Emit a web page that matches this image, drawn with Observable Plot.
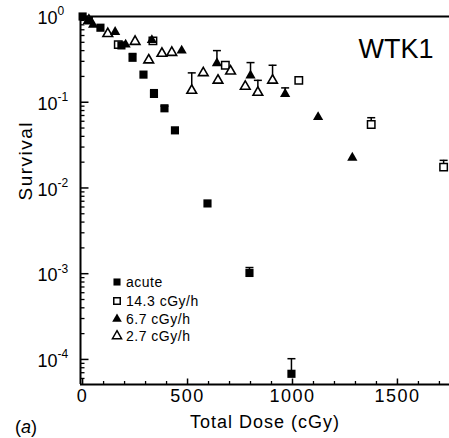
<!DOCTYPE html>
<html><head><meta charset="utf-8">
<script src="https://cdn.jsdelivr.net/npm/d3@7"></script>
<script src="https://cdn.jsdelivr.net/npm/@observablehq/plot@0.6"></script>
<style>
body{margin:0;background:#fff;}
svg{font-family:"Liberation Sans",Arial,Helvetica,sans-serif;}
</style>
</head><body><div id="chart"></div>
<script>
// ---- data ----
const acuteDose = [0, 30, 85, 185, 238, 290, 340, 390, 440, 595, 795, 995];
const acuteSurv = [1.0, 0.9, 0.74, 0.46, 0.33, 0.21, 0.125, 0.085, 0.047, 0.0066, 0.00102, 0.000068];
const acuteHi   = [null, null, null, null, 0.37, null, 0.14, 0.09, null, null, 0.00118, 0.000102];

const r143Dose = [170, 335, 680, 1030, 1375, 1720];
const r143Surv = [0.47, 0.52, 0.27, 0.18, 0.055, 0.0175];
const r143Hi   = [null, null, null, null, 0.066, 0.021];

const r67Dose = [50, 155, 205, 330, 472, 640, 800, 965, 1122, 1285];
const r67Surv = [0.8, 0.66, 0.47, 0.53, 0.40, 0.285, 0.205, 0.125, 0.067, 0.0225];
const r67Hi   = [null, null, null, null, null, 0.40, 0.29, 0.147, null, null];

const r27Dose = [30, 120, 250, 315, 378, 425, 520, 575, 645, 705, 775, 835, 905];
const r27Surv = [0.9, 0.63, 0.51, 0.31, 0.37, 0.38, 0.137, 0.22, 0.18, 0.23, 0.153, 0.13, 0.18];
const r27Hi   = [null, null, null, null, null, null, 0.22, null, null, null, null, 0.18, 0.27];

const seriesNames = ["acute", "14.3 cGy/h", "6.7 cGy/h", "2.7 cGy/h"];
const xTicks = [0, 500, 1000, 1500];
const xMinorTicks = [100, 200, 300, 400, 600, 700, 800, 900, 1100, 1200, 1300, 1400, 1600, 1700];
const yTicks = [1e-4, 1e-3, 1e-2, 1e-1, 1];
const yTickExp = ["-4", "-3", "-2", "-1", "0"];
const xDomain = [-10, 1748];
const yDomain = [5.1e-5, 1];
const xLabel = "Total Dose (cGy)";
const yLabel = "Survival";
const panelTitle = "WTK1";

// ---- build tables ----
function rows(dose, surv, hi, series) {
  return dose.map((d, i) => ({dose: d, surv: surv[i], hi: hi[i], series}));
}
const acute = rows(acuteDose, acuteSurv, acuteHi, seriesNames[0]);
const r143 = rows(r143Dose, r143Surv, r143Hi, seriesNames[1]);
const r67 = rows(r67Dose, r67Surv, r67Hi, seriesNames[2]);
const r27 = rows(r27Dose, r27Surv, r27Hi, seriesNames[3]);
const all = [...acute, ...r143, ...r67, ...r27];
const errs = all.filter(d => d.hi != null);

const yMinor = [];
for (let e = -5; e <= -1; e++) for (let m = 2; m <= 9; m++) {
  const v = m * Math.pow(10, e);
  if (v >= yDomain[0] && v <= yDomain[1]) yMinor.push(v);
}

// custom symbols
const tickUp = {draw(ctx, size){ const l = Math.sqrt(size/Math.PI); ctx.moveTo(0,0); ctx.lineTo(0,-l); }};
const tickRight = {draw(ctx, size){ const l = Math.sqrt(size/Math.PI); ctx.moveTo(0,0); ctx.lineTo(l,0); }};
const capSym = {draw(ctx, size){ const l = Math.sqrt(size/Math.PI); ctx.moveTo(-l,0); ctx.lineTo(l,0); }};

const chart = Plot.plot({
  width: 449, height: 438,
  marginLeft: 80, marginRight: 0, marginTop: 16, marginBottom: 54,
  style: {background: "#fff", color: "#000", fontFamily: "Liberation Sans, Arial, sans-serif"},
  x: {type: "linear", domain: xDomain, axis: null},
  y: {type: "log", domain: yDomain, axis: null},
  marks: [
    // frame lines
    Plot.ruleX([xDomain[0]], {stroke: "#000", strokeWidth: 2}),
    Plot.ruleY([yDomain[0]], {stroke: "#000", strokeWidth: 2.2}),
    Plot.ruleY([yDomain[1]], {stroke: "#000", strokeWidth: 2}),
    // ticks (inward)
    Plot.dot(xTicks, {x: d => d, y: () => yDomain[0], symbol: tickUp, r: 6, fill: "none", stroke: "#000", strokeWidth: 1.5}),
    Plot.dot(xMinorTicks, {x: d => d, y: () => yDomain[0], symbol: tickUp, r: 3.5, fill: "none", stroke: "#000", strokeWidth: 1.3}),
    Plot.dot(yTicks, {x: () => xDomain[0], y: d => d, symbol: tickRight, r: 8, fill: "none", stroke: "#000", strokeWidth: 1.5}),
    Plot.dot(yMinor, {x: () => xDomain[0], y: d => d, symbol: tickRight, r: 4, fill: "none", stroke: "#000", strokeWidth: 1.3}),
    // tick labels
    Plot.text(xTicks, {x: d => d, frameAnchor: "bottom", dy: 17, text: d => String(d), fontSize: 18, fill: "#000", style: "letter-spacing:1.5px"}),
    Plot.text(yTicks, {frameAnchor: "left", y: d => d, dx: -23, dy: 2, text: () => "10", textAnchor: "end", fontSize: 18, fill: "#000"}),
    Plot.text(yTicks, {frameAnchor: "left", y: d => d, dx: -23, dy: -5, text: (d, i) => yTickExp[i], textAnchor: "start", fontSize: 12, fill: "#000"}),
    // axis labels
    Plot.text([xLabel], {frameAnchor: "bottom", dy: 43, text: d => d, fontSize: 18, fill: "#000"}),
    Plot.text([yLabel], {frameAnchor: "left", dx: -55, rotate: -90, text: d => d, fontSize: 19, fill: "#000"}),
    Plot.text([panelTitle], {frameAnchor: "top-right", dx: -16, dy: 22, textAnchor: "end", text: d => d, fontSize: 27, fill: "#000"}),
    // error bars
    Plot.ruleX(errs, {x: "dose", y1: "surv", y2: "hi", stroke: "#000", strokeWidth: 1.5}),
    Plot.dot(errs, {x: "dose", y: "hi", symbol: capSym, r: 4, fill: "none", stroke: "#000", strokeWidth: 1.5}),
    // data markers
    Plot.dot(r143, {x: "dose", y: "surv", symbol: "square", r: 4.2, fill: "#fff", stroke: "#000", strokeWidth: 1.5}),
    Plot.dot(r27, {x: "dose", y: "surv", symbol: "triangle", r: 3.6, fill: "#fff", stroke: "#000", strokeWidth: 1.6}),
    Plot.dot(r67, {x: "dose", y: "surv", symbol: "triangle", r: 3.8, fill: "#000", stroke: "none"}),
    Plot.dot(acute, {x: "dose", y: "surv", symbol: "square", r: 4.6, fill: "#000", stroke: "none"})
  ]
});
document.getElementById("chart").appendChild(chart);

// letter spacing tweaks for labels (styling only)
const svg = d3.select(chart);
svg.selectAll("text").filter(function(){ return this.textContent === xLabel; }).attr("letter-spacing", "1px");
svg.selectAll("text").filter(function(){ return this.textContent === yLabel; }).attr("letter-spacing", "1.5px");
svg.selectAll("text").filter(function(){ return xTicks.map(String).includes(this.textContent); }).attr("letter-spacing", "1.5px");

// legend and panel letter (layout only)
const legend = svg.append("g").attr("font-size", 14).attr("letter-spacing", "0.5px").attr("text-anchor", "start");
const legendSymbols = [
  {type: d3.symbolSquare, size: 50, fill: "#000", stroke: "none"},
  {type: d3.symbolSquare, size: 42, fill: "#fff", stroke: "#000"},
  {type: d3.symbolTriangle, size: 40, fill: "#000", stroke: "none"},
  {type: d3.symbolTriangle, size: 36, fill: "#fff", stroke: "#000"}
];
const legendY = [282, 301, 319, 336];
seriesNames.forEach((name, i) => {
  const s = legendSymbols[i];
  legend.append("path")
    .attr("transform", `translate(117,${legendY[i]})`)
    .attr("d", d3.symbol(s.type, s.size)())
    .attr("fill", s.fill).attr("stroke", s.stroke).attr("stroke-width", 1.5);
  legend.append("text").attr("x", 126).attr("y", legendY[i]).attr("dy", "0.35em")
    .attr("text-anchor", "start").attr("fill", "#000").text(name);
});
const pa = svg.append("text").attr("x", 15).attr("y", 433).attr("font-size", 18)
  .attr("text-anchor", "start").attr("fill", "#000");
pa.append("tspan").text("(");
pa.append("tspan").attr("font-style", "italic").text("a");
pa.append("tspan").text(")");
</script>
</body></html>
